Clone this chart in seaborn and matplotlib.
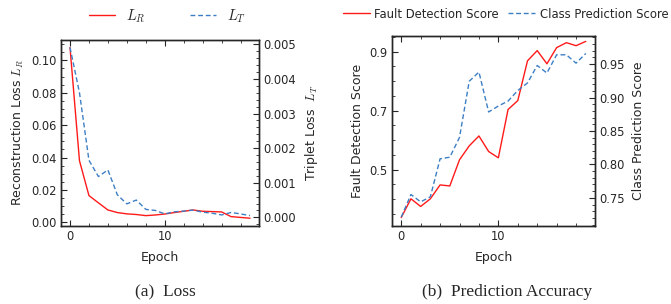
import numpy as np
import pandas as pd
import seaborn as sns
import matplotlib
matplotlib.use("Agg")
import matplotlib.pyplot as plt
from matplotlib.ticker import MultipleLocator, AutoMinorLocator

# data
epochs = list(range(20))
loss_r = [0.108, 0.038, 0.0165, 0.012, 0.0076, 0.006, 0.0052, 0.0048, 0.0041, 0.0045,
          0.0051, 0.006, 0.0068, 0.0076, 0.0068, 0.0066, 0.0064, 0.0035, 0.003, 0.0025]
loss_t = [0.00491, 0.0036, 0.00165, 0.00118, 0.00137, 0.00065, 0.00039, 0.0005, 0.00023, 0.0002,
          0.0001, 0.00016, 0.00018, 0.00021, 0.00015, 0.00012, 0.00007, 0.00014, 0.0001, 0.00005]
fault_score = [0.338, 0.4015, 0.3756, 0.4015, 0.4485, 0.445, 0.5336, 0.5807, 0.6143, 0.5616,
               0.5403, 0.704, 0.734, 0.8687, 0.9034, 0.8587, 0.9134, 0.9302, 0.920, 0.9346]
class_score = [0.7211, 0.755, 0.744, 0.7516, 0.8084, 0.8108, 0.8404, 0.9244, 0.9382, 0.8785,
               0.8874, 0.8948, 0.9106, 0.9219, 0.948, 0.9367, 0.964, 0.964, 0.9515, 0.966]
fault_ticks = [0.5, 0.7, 0.9]

df = pd.DataFrame({"epoch": epochs, "lr": loss_r, "lt": loss_t,
                   "fault": fault_score, "cls": class_score})

sns.set_style("ticks")
plt.rcParams["font.family"] = ["DejaVu Sans"]
plt.rcParams["mathtext.fontset"] = "cm"
plt.rcParams["xtick.direction"] = "in"
plt.rcParams["ytick.direction"] = "in"
plt.rcParams["xtick.major.size"] = 4
plt.rcParams["ytick.major.size"] = 4
plt.rcParams["xtick.minor.size"] = 2.2
plt.rcParams["ytick.minor.size"] = 2.2
plt.rcParams["axes.linewidth"] = 1.0

RED = "#ff1a1a"
BLUE = "#3d7fc4"
W, H = 671, 304

fig = plt.figure(figsize=(W / 100, H / 100), dpi=100)


def box(x0, y0, x1, y1):
    return [x0 / W, 1 - y1 / H, (x1 - x0) / W, (y1 - y0) / H]


def style(ax, tw):
    ax.xaxis.set_major_locator(MultipleLocator(10))
    ax.xaxis.set_minor_locator(MultipleLocator(2))
    ax.yaxis.set_minor_locator(AutoMinorLocator())
    tw.yaxis.set_minor_locator(AutoMinorLocator())
    ax.tick_params(which="both", top=True, labelsize=8.3, pad=3)
    tw.tick_params(which="both", labelsize=8.3, pad=3)
    ax.set_xlabel("Epoch", fontsize=9, labelpad=6)
    ax.set_xlim(-0.95, 19.95)


# (a) loss
ax1 = fig.add_axes(box(61, 40, 259, 226))
ax1b = ax1.twinx()
sns.lineplot(data=df, x="epoch", y="lr", ax=ax1, color=RED, lw=1.0, label="$L_R$", legend=False)
sns.lineplot(data=df, x="epoch", y="lt", ax=ax1b, color=BLUE, lw=1.0, ls=(0, (3.5, 2)),
             label="$L_T$", legend=False)
style(ax1, ax1b)
ax1.set_ylim(-0.0023, 0.1126)
ax1b.set_ylim(-0.00025, 0.005125)
ax1.set_ylabel("Reconstruction Loss $L_R$", fontsize=9, labelpad=4)
ax1b.set_ylabel("Triplet Loss  $L_T$", fontsize=9, labelpad=5)
h1 = ax1.get_lines() + ax1b.get_lines()
fig.legend(h1, ["$L_R$", "$L_T$"], loc="center left", bbox_to_anchor=(89 / W, 1 - 16 / H),
           ncol=2, frameon=False, fontsize=10.5, handlelength=1.8, handletextpad=0.75,
           columnspacing=3.0, borderpad=0, borderaxespad=0)

# (b) prediction accuracy
ax2 = fig.add_axes(box(392, 36, 595, 226))
ax2b = ax2.twinx()
sns.lineplot(data=df, x="epoch", y="fault", ax=ax2, color=RED, lw=1.0, legend=False)
sns.lineplot(data=df, x="epoch", y="cls", ax=ax2b, color=BLUE, lw=1.0, ls=(0, (3.5, 2)),
             legend=False)
style(ax2, ax2b)
ax2.set_yticks(fault_ticks)
ax2.yaxis.set_minor_locator(MultipleLocator(0.05))
ax2.set_ylim(0.3094, 0.9528)
ax2b.set_ylim(0.7079, 0.9921)
ax2.set_ylabel("Fault Detection Score", fontsize=9, labelpad=4)
ax2b.set_ylabel("Class Prediction Score", fontsize=9, labelpad=5)
h2 = ax2.get_lines() + ax2b.get_lines()
fig.legend(h2, ["Fault Detection Score", "Class Prediction Score"], loc="center left",
           bbox_to_anchor=(343 / W, 1 - 14 / H), ncol=2, frameon=False, fontsize=8.4,
           handlelength=2.3, handletextpad=0.4, columnspacing=0.8, borderpad=0, borderaxespad=0)

# captions
fig.text(165 / W, 1 - 292 / H, "(a)  Loss", ha="center", va="center",
         family="Liberation Serif", fontsize=12.5)
fig.text(507 / W, 1 - 292 / H, "(b)  Prediction Accuracy", ha="center", va="center",
         family="Liberation Serif", fontsize=12.5)

fig.savefig("out.png", dpi=100)
